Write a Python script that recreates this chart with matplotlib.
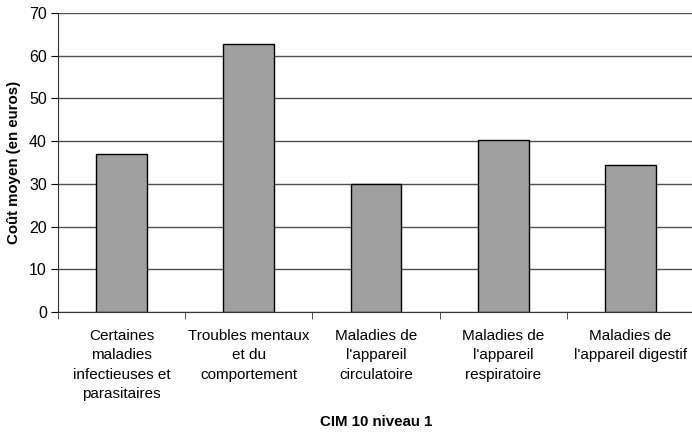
import numpy as np
from matplotlib import pyplot as plt

plt.rcParams['font.family'] = ['Liberation Sans', 'DejaVu Sans']

categories = ['Certaines\nmaladies\ninfectieuses et\nparasitaires',
              'Troubles mentaux\net du\ncomportement',
              "Maladies de\nl'appareil\ncirculatoire",
              "Maladies de\nl'appareil\nrespiratoire",
              "Maladies de\nl'appareil digestif"]
values = [36.9, 62.8, 30.0, 40.2, 34.5]
yticks = [0, 10, 20, 30, 40, 50, 60, 70]

fig = plt.figure(figsize=(6.92, 4.32), dpi=100)
ax = fig.add_axes([58 / 692, 1 - 312 / 432, 636 / 692, 299 / 432])

x = np.arange(len(categories))
ax.set_axisbelow(True)
ax.yaxis.grid(True, color='#505050', lw=1.0)
ax.bar(x, values, width=0.4, color='#a0a0a0', edgecolor='#000000', lw=1.0, zorder=2)

ax.set_xlim(-0.5, len(categories) - 0.5)
ax.set_ylim(0, 70)
ax.set_yticks(yticks)
ax.set_xticks(x)
ax.set_xticklabels(categories, linespacing=1.5)
ax.set_xticks(np.arange(len(categories) + 1) - 0.5, minor=True)
ax.tick_params(axis='x', which='major', length=0, pad=12, labelsize=11)
ax.tick_params(axis='x', which='minor', length=5, color='#333333')
ax.tick_params(axis='y', length=5, labelsize=11.5, pad=3)

for s in ['top', 'right']:
    ax.spines[s].set_visible(False)
ax.spines['left'].set_color('#333333')
ax.spines['bottom'].set_color('#333333')

ax.set_ylabel('Coût moyen (en euros)', fontweight='bold', fontsize=10.8, labelpad=6)
ax.set_xlabel('CIM 10 niveau 1', fontweight='bold', fontsize=10.8, labelpad=10)

plt.savefig('out.png', dpi=100)
plt.close()
